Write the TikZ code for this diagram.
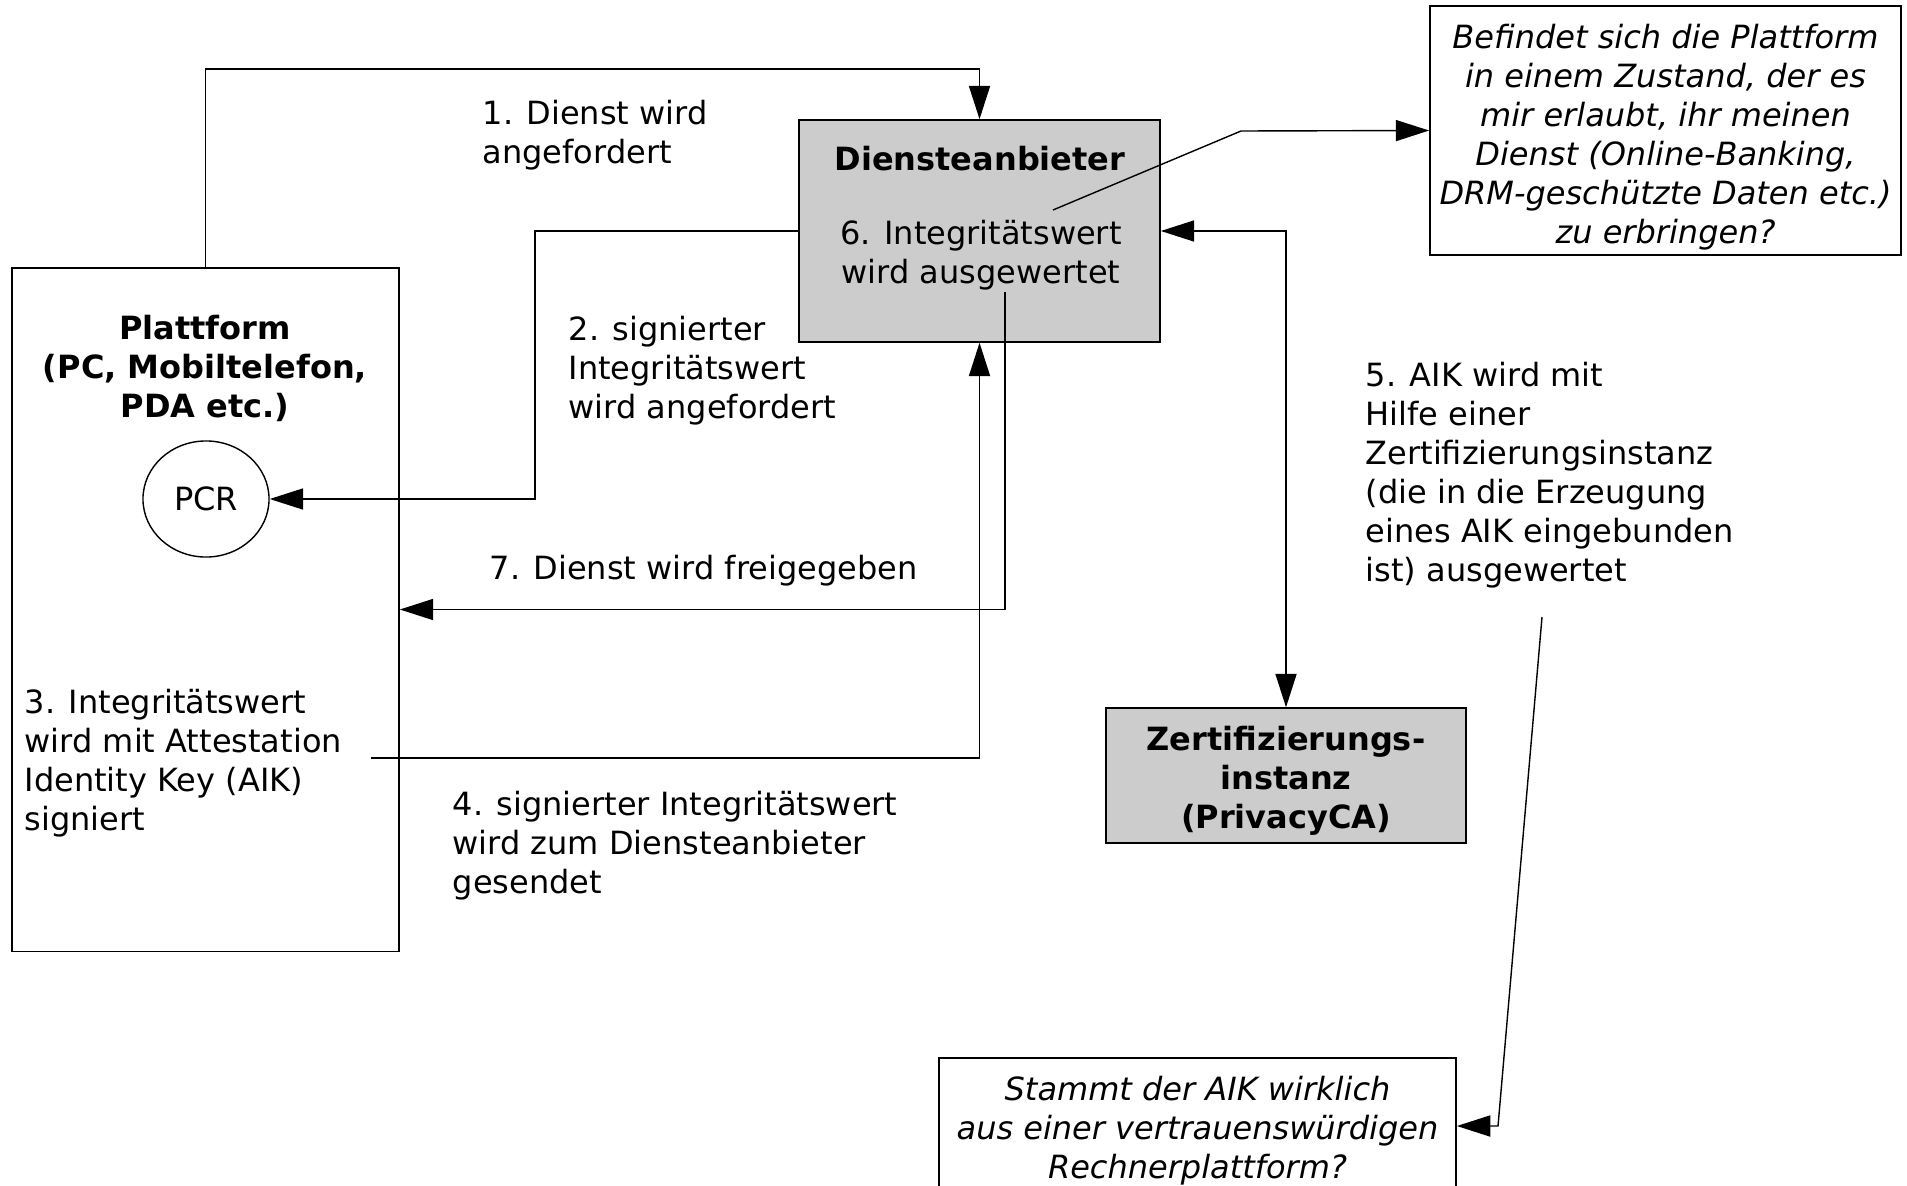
\documentclass[tikz,border=0pt]{standalone}
\usepackage{fontspec}
\setmainfont{DejaVu Sans}
\usetikzlibrary{arrows.meta, shapes.geometric}

\begin{document}
\begin{tikzpicture}[x=0.01cm, y=-0.01cm, line width=0.4pt,
  font=\fontsize{9.1}{11.1}\selectfont,
  box/.style={draw, rectangle, inner sep=0pt},
  graybox/.style={box, fill=black!20},
  txt/.style={inner sep=0pt, align=center},
  lbl/.style={inner sep=0pt, align=left, anchor=west},
  bold/.style={font=\fontsize{9.1}{11.1}\selectfont\bfseries},
  ital/.style={font=\fontsize{9.1}{11.1}\selectfont\itshape},
  arr/.style={-{Triangle[length=9.5pt, width=6pt]}},
  darr/.style={{Triangle[length=9.5pt, width=6pt]}-{Triangle[length=9.5pt, width=6pt]}}]
\useasboundingbox (0,0) rectangle (1907,1185);
\node[box, minimum width=3.87cm, minimum height=6.83cm] (plat) at (205.5,609.5) {};
\node[txt, bold] (ptitle) at (205,368) {Plattform\\(PC, Mobiltelefon,\\PDA etc.)};
\node[draw, ellipse, minimum width=1.26cm, minimum height=1.16cm, inner sep=0pt] (pcr) at (206,499) {};
\node[txt] (pcrtext) at (pcr) {PCR};
\node[graybox, minimum width=3.61cm, minimum height=2.22cm] (dienst) at (979.5,231) {};
\node[txt, bold] (dtitle) at (980,159) {Diensteanbieter};
\node[txt] (dtext) at (981,255) {6. Integritätswert\\wird ausgewertet};
\node[box, minimum width=4.71cm, minimum height=2.49cm] (frage1) at (1665.5,130.5) {};
\node[txt, ital] (f1text) at (1665.5,137) {Befindet sich die Plattform\\in einem Zustand, der es\\mir erlaubt, ihr meinen\\Dienst (Online-Banking,\\DRM-geschützte Daten etc.)\\zu erbringen?};
\node[graybox, minimum width=3.6cm, minimum height=1.35cm] (zert) at (1286,775.5) {};
\node[txt, bold] (ztext) at (1286,780.5) {Zertifizierungs-\\instanz\\(PrivacyCA)};
\node[box, minimum width=5.17cm, minimum height=1.36cm] (frage2) at (1197.5,1126) {};
\node[txt, ital] (f2text) at (1197.5,1131) {Stammt der AIK wirklich\\aus einer vertrauenswürdigen\\Rechnerplattform?};

\node[lbl] (l1) at (482,135) {1. Dienst wird\\angefordert};
\node[lbl] (l2) at (568,370.5) {2. signierter\\Integritätswert\\wird angefordert};
\node[lbl] (l3) at (24,763.5) {3. Integritätswert\\wird mit Attestation\\Identity Key (AIK)\\signiert};
\node[lbl] (l4) at (452,845.5) {4. signierter Integritätswert\\wird zum Diensteanbieter\\gesendet};
\node[lbl] (l5) at (1365,475) {5. AIK wird mit\\Hilfe einer\\Zertifizierungsinstanz\\(die in die Erzeugung\\eines AIK eingebunden\\ist) ausgewertet};
\node[lbl] (l7) at (489,570.5) {7. Dienst wird freigegeben};

\coordinate (k1) at (205.5,69);
\coordinate (k2) at (535,231);
\coordinate (k4) at (371,758);
\coordinate (k5a) at (1542,617);
\coordinate (k5b) at (1498,1126);
\coordinate (k6a) at (1053,210);
\coordinate (k6b) at (1241,131);
\coordinate (k7) at (1005,292);

\draw[arr] (plat.north) -- (k1) -| (dienst.north);
\draw[arr] (dienst.west) -- (k2) |- (pcr.east);
\draw[arr] (k4) -| (dienst.south);
\draw[darr] (dienst.east) -| (zert.north);
\draw[arr] (k5a) -- (k5b) -- (frage2.east);
\draw[arr] (k6a) -- (k6b) -- (frage1.west);
\draw[arr] (k7) |- (plat.east);
\end{tikzpicture}
\end{document}
